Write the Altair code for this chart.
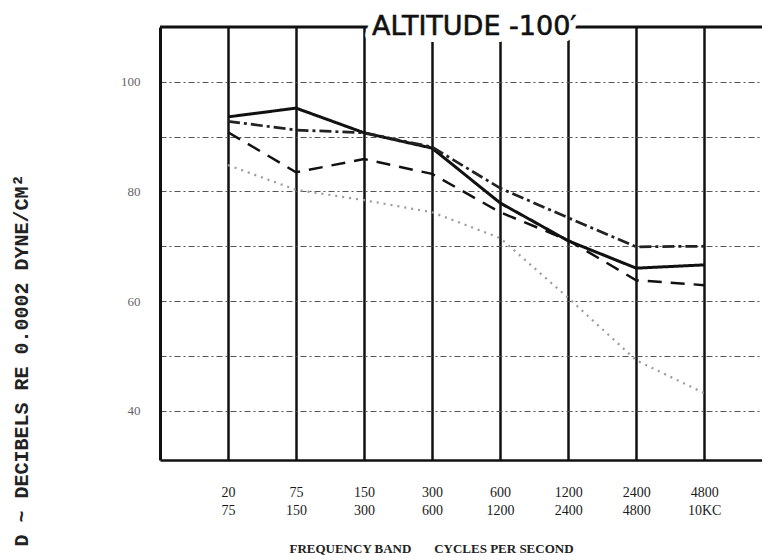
import altair as alt
import pandas as pd

# ---- data ----
BAND_LO = ["20", "75", "150", "300", "600", "1200", "2400", "4800"]
BAND_HI = ["75", "150", "300", "600", "1200", "2400", "4800", "10KC"]
BAND_POS = [0, 1, 2, 3, 4, 5, 6, 7]

SERIES = ["solid", "dashdot", "dashed", "dotted"]
SOLID = [93.6, 95.2, 90.7, 87.9, 77.9, 71.0, 66.0, 66.6]
DASHDOT = [92.8, 91.2, 90.7, 88.1, 80.6, 75.2, 69.9, 70.0]
DASHED = [90.8, 83.5, 85.9, 83.2, 76.2, 71.1, 63.8, 62.9]
DOTTED = [84.8, 80.3, 78.4, 76.2, 71.5, 60.6, 49.2, 43.2]

Y_GRID = [40, 50, 60, 70, 80, 90, 100]
TITLE = "ALTITUDE -100\u2032"
X_TITLE = "FREQUENCY BAND\u00a0\u00a0\u00a0\u00a0\u00a0\u00a0\u00a0CYCLES PER SECOND"
Y_TITLE = "D ~ DECIBELS RE 0.0002 DYNE/CM\u00b2"

rows = []
for name, vals in zip(SERIES, [SOLID, DASHDOT, DASHED, DOTTED]):
    for p, v in zip(BAND_POS, vals):
        rows.append({"pos": p, "db": v, "series": name})
df = pd.DataFrame(rows)

xscale = alt.Scale(domain=[-1, 7.85], nice=False, zero=False)
yscale = alt.Scale(domain=[31, 110], nice=False, zero=False)

label_expr = "[" + ",".join(f"['{a}','{b}']" for a, b in zip(BAND_LO, BAND_HI)) + "][round(datum.value)]"

X = alt.X(
    "pos:Q", scale=xscale,
    axis=alt.Axis(
        values=BAND_POS, labelExpr=label_expr, grid=True, gridColor="#111",
        gridWidth=2.5, ticks=False, domainColor="#111", domainWidth=2.5,
        labelPadding=25, labelFontSize=14, labelFont="Liberation Serif",
        labelColor="#1a1a1a", labelLineHeight=18, labelBaseline="top",
        title=X_TITLE, titleX=271, titleY=88, titleAnchor="middle",
        titleAlign="center", titleBaseline="middle", titleFont="Liberation Serif",
        titleFontSize=13, titleFontWeight="bold", titleColor="#222",
    ),
)
Y = alt.Y(
    "db:Q", scale=yscale,
    axis=alt.Axis(
        values=Y_GRID, labelExpr="datum.value % 20 == 0 ? datum.label : ''",
        grid=True, gridColor="#555", gridWidth=1.1, gridDash=[6, 3, 2, 3],
        ticks=False, domainColor="#111", domainWidth=3, labelPadding=20,
        labelFont="Liberation Serif", labelFontSize=13, labelColor="#666",
        title=Y_TITLE, titleAngle=270, titleX=-139, titleY=333,
        titleAlign="center", titleBaseline="middle", titleFont="Liberation Mono",
        titleFontSize=20, titleFontWeight="bold", titleColor="#222",
    ),
)

top = alt.Chart(pd.DataFrame({"db": [110]})).mark_rule(color="#111", strokeWidth=3).encode(y=Y)

tdf = pd.DataFrame({"pos": [3.62], "db": [110], "t": [TITLE]})
halo = alt.Chart(tdf).mark_text(
    font="DejaVu Sans", fontSize=27, stroke="white", strokeWidth=14,
    fill="white", strokeJoin="round", baseline="middle", align="center",
).encode(x=X, y=Y, text="t:N")
title = alt.Chart(tdf).mark_text(
    font="DejaVu Sans", fontSize=27, color="#111", baseline="middle", align="center",
    stroke="#111", strokeWidth=0.6,
).encode(x=X, y=Y, text="t:N")

lines = alt.Chart(df).mark_line(strokeCap="butt").encode(
    x=X, y=Y,
    detail="series:N",
    strokeDash=alt.StrokeDash("series:N", scale=alt.Scale(domain=SERIES, range=[[1, 0], [12, 4, 3, 4], [14, 9], [2, 5]]), legend=None),
    color=alt.Color("series:N", scale=alt.Scale(domain=SERIES, range=["#111", "#222", "#111", "#9a9a9a"]), legend=None),
    strokeWidth=alt.StrokeWidth("series:N", scale=alt.Scale(domain=SERIES, range=[3, 2.2, 3, 1.6]), legend=None),
)

chart = alt.layer(top, halo, title, lines).properties(
    width=602, height=433,
    autosize=alt.AutoSizeParams(type="none"),
    padding={"left": 152, "top": 19, "right": 0, "bottom": 100},
    background="white",
).configure_view(stroke=None)

chart.save("out.html", embed_options={"renderer": "svg", "actions": False})
